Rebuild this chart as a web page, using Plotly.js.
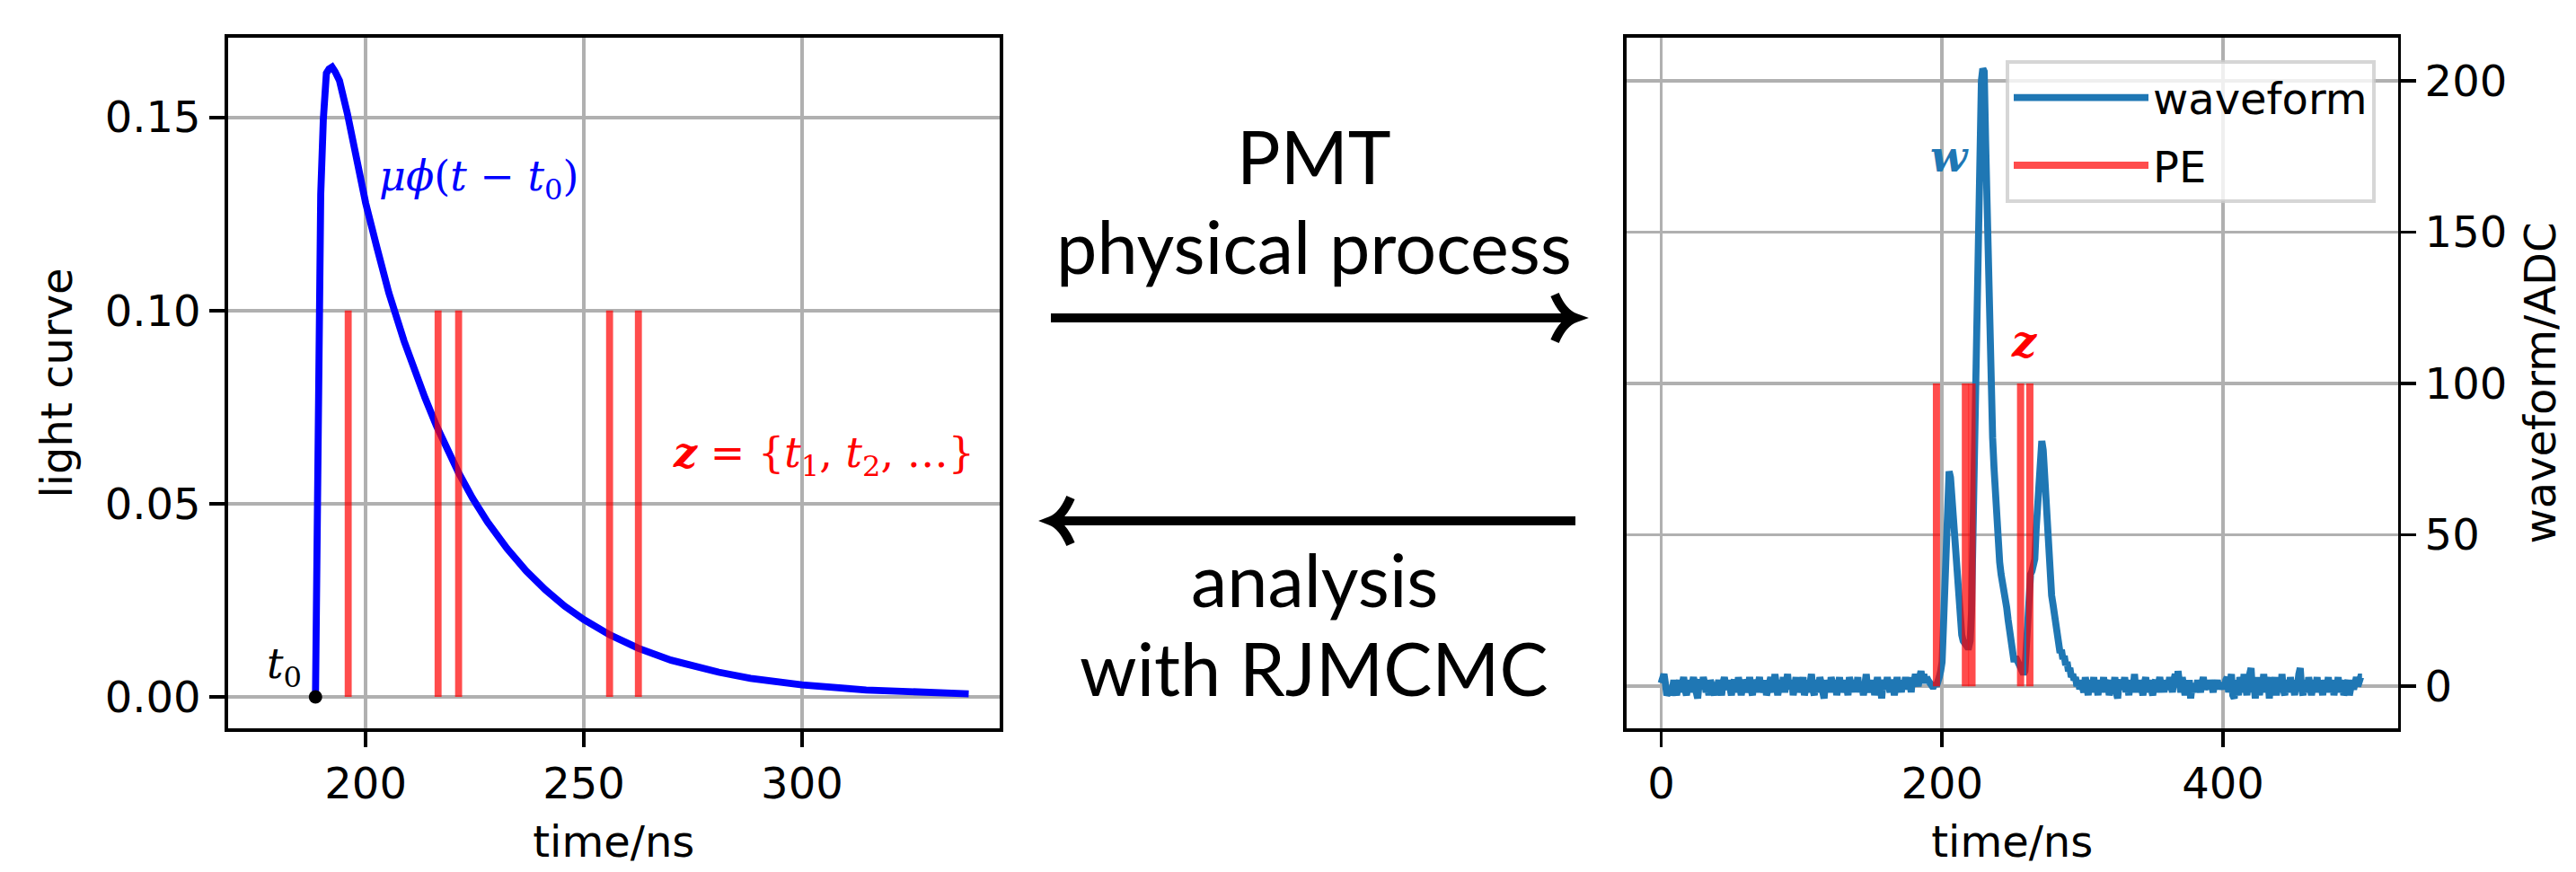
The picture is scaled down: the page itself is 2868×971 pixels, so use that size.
<!DOCTYPE html>
<html>
<head>
<meta charset="utf-8">
<script src="https://cdn.plot.ly/plotly-3.0.1.min.js"></script>
<style>html,body{margin:0;padding:0;background:#ffffff;}</style>
</head>
<body>
<div id="chart" style="width:2868px;height:971px;"></div>
<script>
// ---------------- data ----------------
// left panel: light curve mu*phi(t - t0)
const lightTime  = [188.5, 188.9, 189.2, 189.7, 190.3, 191.0, 191.6, 192.3, 193.0, 194.0, 195.8, 198.5, 200.0, 202.6, 205.3, 208.8, 211.0, 213.6, 216.2, 218.7, 221.3, 224.5, 227.9, 232.4, 236.8, 241.2, 245.6, 250.0, 255.9, 262.5, 270.0, 280.9, 288.2, 300.0, 314.7, 338.2];
const lightValue = [0.0, 0.055, 0.100, 0.130, 0.1495, 0.1614, 0.1625, 0.1630, 0.1618, 0.1595, 0.1510, 0.1356, 0.1278, 0.1162, 0.1046, 0.0921, 0.0848, 0.0774, 0.0702, 0.0641, 0.0580, 0.0514, 0.0453, 0.0384, 0.0326, 0.0277, 0.0235, 0.0200, 0.0161, 0.0126, 0.0095, 0.0064, 0.0048, 0.0031, 0.0018, 0.0008];
const t0 = 188.5;
const t0Value = 0;

// photoelectron times (both panels)
const peTimes = [196.0, 216.6, 221.3, 255.9, 262.5];
const peHeightLight = 0.10;
const peHeightWave = 100;

// right panel: waveform sampled every 1 ns (t = 0 ... 499)
const waveStep = 1;
const waveADC = [
  // t 0-189
  1, 2, 4, 1, -3, -2, 0, -3, -1, 2,
  -1, -3, 0, 2, -2, 1, 3, -1, -3, 0,
  2, -2, 1, 3, 0, -2, -4, 1, 2, -1,
  3, 1, -2, 0, -3, 2, 1, -1, -3, 1,
  0, 2, -2, -3, 1, 3, 0, -1, 2, -2,
  -3, 1, 2, 0, -2, 3, -1, -3, 0, 2,
  1, -2, 0, 3, -1, -3, 2, 1, -2, 0,
  3, -1, 0, -2, 2, -3, -1, 1, 3, 0,
  -2, 4, 1, -3, 0, 2, -1, 3, -2, 1,
  4, -1, 0, 2, -3, 1, 3, -2, 0, 2,
  -1, 3, -3, 0, 2, -2, 1, 4, -1, -3,
  2, 0, -2, 3, 1, -1, -4, 2, 0, 1,
  -2, 3, 1, -1, 2, -3, 0, 3, -2, 1,
  2, -1, 0, -3, 3, 1, -2, 2, 0, -1,
  3, -2, 1, 0, -3, 2, 4, -1, 1, -2,
  0, 2, -3, 1, 3, -1, 0, -4, 2, 1,
  -1, 3, 0, -2, 2, 1, -3, 0, 3, -1,
  1, -2, 2, 0, 3, -1, 1, 2, -2, 3,
  1, 4, 2, 0, 3, 5, 2, 4, 1, 3,
  // t 190-299 (pulse)
  2, 1, 1, 0, 0, 1, 0, 1, 3, 5,
  8, 20, 35, 55, 68, 71, 69, 62, 54, 45,
  37, 30, 24, 20, 17, 15, 14, 13, 13, 13,
  15, 25, 50, 85, 115, 140, 157, 180, 200, 204,
  203, 180, 155, 128, 108, 92, 82, 72, 62, 52,
  46, 41, 37, 33, 30, 28, 26, 22, 18, 14,
  10, 9, 9, 9, 8, 7, 6, 5, 4, 5,
  14, 25, 32, 37, 38, 40, 42, 52, 62, 72,
  80, 81, 78, 70, 60, 50, 40, 34, 30, 27,
  24, 19, 16, 15, 11, 12, 9, 10, 7, 8,
  5, 6, 3, 4, 2, 3, 0, 2, -1, 1,
  // t 300-499
  0, -2, 3, 1, -3, 2, 0, -1, 3, -2,
  1, -3, 2, 0, -1, 3, -2, 1, 2, -3,
  0, 2, -1, 3, -2, -4, 1, 2, -1, 0,
  3, -2, 1, -3, 2, 0, -1, 4, -2, 1,
  -1, 2, 0, -3, 1, 3, -2, 0, 2, -1,
  -3, 1, 2, -2, 0, 3, -1, 1, -2, 2,
  0, -1, 3, 1, -2, 2, 4, 0, 5, 1,
  -2, 3, 0, -3, 1, -1, 2, -4, 0, -2,
  1, -1, 2, 0, -2, 1, 3, -1, 0, 1,
  -1, 2, 0, -2, 1, 0, 2, -1, 1, 0,
  1, -1, 2, 3, -2, 1, 4, -3, -4, 2,
  0, -3, 3, 1, -2, 4, 0, -3, 2, 5,
  6, -2, 1, -4, 3, 0, -3, 2, -1, 4,
  -2, 1, 3, -4, 2, -1, 0, 3, -3, 1,
  2, -2, 4, -1, -3, 2, 0, -2, 3, -1,
  1, -3, 2, 0, 4, 6, -1, -3, 2, 0,
  -2, 3, 1, -3, 0, 2, -1, 3, -2, 1,
  0, -3, 2, 1, -1, 3, -2, 0, 2, -3,
  1, -1, 3, -2, 0, 2, -3, -1, 1, 2,
  -3, 0, 2, -1, 1, 3, 0, 2, 3, 3
];

// tick labels
const lightXTicks = [200, 250, 300];
const lightYTicks = [0.00, 0.05, 0.10, 0.15];
const waveXTicks = [0, 200, 400];
const waveYTicks = [0, 50, 100, 150, 200];

// text
const seriesNames = ['waveform', 'PE'];
const leftXLabel = 'time/ns', leftYLabel = 'light curve';
const rightXLabel = 'time/ns', rightYLabel = 'waveform/ADC';
const forwardText = ['PMT', 'physical process'];
const backwardText = ['analysis', 'with RJMCMC'];

// ---------------- build ----------------
const W = 2868, H = 971;
const px = v => v / W;
const py = v => 1 - v / H;

const waveTime = waveADC.map((_, i) => i * waveStep);
const segX = peTimes.flatMap(t => [t, t, null]);
const segY = h => peTimes.flatMap(() => [0, h, null]);

const PE_COLOR = 'rgba(255,0,0,0.7)';
const WAVE_COLOR = '#1f77b4';
const LW = 7.8;

const traces = [
  {x: lightTime, y: lightValue, xaxis: 'x', yaxis: 'y', mode: 'lines',
   line: {color: '#0000ff', width: LW}, showlegend: false, hoverinfo: 'skip'},
  {x: segX, y: segY(peHeightLight), xaxis: 'x', yaxis: 'y', mode: 'lines',
   line: {color: PE_COLOR, width: LW}, showlegend: false, hoverinfo: 'skip'},
  {x: [t0], y: [t0Value], xaxis: 'x', yaxis: 'y', mode: 'markers', cliponaxis: false,
   marker: {color: '#000000', size: 15}, showlegend: false, hoverinfo: 'skip'},
  {x: waveTime, y: waveADC, xaxis: 'x2', yaxis: 'y2', mode: 'lines', name: seriesNames[0],
   legendgroup: 'a', line: {color: WAVE_COLOR, width: LW}},
  {x: segX, y: segY(peHeightWave), xaxis: 'x2', yaxis: 'y2', mode: 'lines', name: seriesNames[1],
   legendgroup: 'b', line: {color: PE_COLOR, width: 8}}
];

const FONT = 'DejaVu Sans';
const FS = 48;
const axisCommon = {
  showline: true, linecolor: '#000000', linewidth: 3.8, mirror: true,
  ticks: 'outside', ticklen: 16.7, tickwidth: 3.8, tickcolor: '#000000',
  showgrid: true, gridcolor: '#b0b0b0', gridwidth: 3.8, zeroline: false,
  tickfont: {family: FONT, size: FS, color: '#000000'},
  fixedrange: true
};

const topPx = 42, botPx = 811;
const yDom = [py(botPx), py(topPx)];

const layout = {
  width: W, height: H, autosize: false,
  margin: {l: 0, r: 0, t: 0, b: 0, pad: 0},
  paper_bgcolor: '#ffffff', plot_bgcolor: '#ffffff',
  font: {family: FONT, size: FS, color: '#000000'},
  xaxis: Object.assign({}, axisCommon, {
    domain: [px(253.6), px(1113)], range: [168.4, 345.3], anchor: 'y',
    tickvals: lightXTicks, ticktext: lightXTicks.map(String),
    title: {text: leftXLabel, font: {family: FONT, size: FS}, standoff: 22}
  }),
  yaxis: Object.assign({}, axisCommon, {
    domain: yDom, range: [-0.00813, 0.1706], anchor: 'x',
    tickvals: lightYTicks, ticktext: lightYTicks.map(v => v.toFixed(2)),
    title: {text: leftYLabel, font: {family: FONT, size: FS}, standoff: 22}
  }),
  xaxis2: Object.assign({}, axisCommon, {
    domain: [px(1811), px(2669.5)], range: [-24.6, 524.4], anchor: 'y2',
    tickvals: waveXTicks, ticktext: waveXTicks.map(String),
    title: {text: rightXLabel, font: {family: FONT, size: FS}, standoff: 22}
  }),
  yaxis2: Object.assign({}, axisCommon, {
    domain: yDom, range: [-13.9, 214.2], anchor: 'x2', side: 'right',
    tickvals: waveYTicks, ticktext: waveYTicks.map(String),
    title: {text: rightYLabel, font: {family: FONT, size: FS}, standoff: 22}
  }),
  showlegend: true,
  legend: {
    x: px(2645), y: py(67), xanchor: 'right', yanchor: 'top',
    xref: 'paper', yref: 'paper',
    bgcolor: 'rgba(255,255,255,0.8)', bordercolor: 'rgba(204,204,204,0.8)', borderwidth: 4,
    font: {family: FONT, size: FS, color: '#000000'},
    itemwidth: 150, tracegroupgap: 10
  },
  annotations: [
    {xref: 'x', yref: 'y', x: 202.6, y: 0.134, xanchor: 'left', yanchor: 'middle', showarrow: false,
     text: '<i>μϕ</i>(<i>t</i> − <i>t</i><sub>0</sub>)', font: {family: 'DejaVu Serif', size: 46, color: '#0000ff'}},
    {xref: 'x', yref: 'y', x: 269.9, y: 0.0625, xanchor: 'left', yanchor: 'middle', showarrow: false,
     text: '<b><i>z</i></b> = {<i>t</i><sub>1</sub>, <i>t</i><sub>2</sub>, …}', font: {family: 'DejaVu Serif', size: 46, color: '#ff0000'}},
    {xref: 'x', yref: 'y', x: 185.8, y: 0.0079, xanchor: 'right', yanchor: 'middle', showarrow: false,
     text: '<i>t</i><sub>0</sub>', font: {family: 'DejaVu Serif', size: 46, color: '#000000'}},
    {xref: 'x2', yref: 'y2', x: 205.6, y: 175, xanchor: 'center', yanchor: 'middle', showarrow: false,
     text: '<b><i>w</i></b>', font: {family: 'DejaVu Serif', size: 48, color: WAVE_COLOR}},
    {xref: 'x2', yref: 'y2', x: 259, y: 114, xanchor: 'center', yanchor: 'middle', showarrow: false,
     text: '<b><i>z</i></b>', font: {family: 'DejaVu Serif', size: 48, color: '#ff0000'}},
    {xref: 'paper', yref: 'paper', x: px(1463), y: py(174), xanchor: 'center', yanchor: 'middle', showarrow: false,
     text: forwardText[0], font: {family: 'Lato', size: 81, color: '#000000'}},
    {xref: 'paper', yref: 'paper', x: px(1463), y: py(273), xanchor: 'center', yanchor: 'middle', showarrow: false,
     text: forwardText[1], font: {family: 'Lato', size: 81, color: '#000000'}},
    {xref: 'paper', yref: 'paper', x: px(1463), y: py(644), xanchor: 'center', yanchor: 'middle', showarrow: false,
     text: backwardText[0], font: {family: 'Lato', size: 81, color: '#000000'}},
    {xref: 'paper', yref: 'paper', x: px(1463), y: py(743), xanchor: 'center', yanchor: 'middle', showarrow: false,
     text: backwardText[1], font: {family: 'Lato', size: 81, color: '#000000'}}
  ],
  shapes: [
    {type: 'line', xref: 'paper', yref: 'paper', x0: px(1170), x1: px(1748), y0: py(354), y1: py(354),
     line: {color: '#000000', width: 10}},
    {type: 'path', xref: 'paper', yref: 'paper',
     path: `M ${px(1731)},${py(328)} Q ${px(1740)},${py(349)} ${px(1754)},${py(354)} Q ${px(1740)},${py(359)} ${px(1731)},${py(380)}`,
     line: {color: '#000000', width: 10}},
    {type: 'line', xref: 'paper', yref: 'paper', x0: px(1176), x1: px(1754), y0: py(580), y1: py(580),
     line: {color: '#000000', width: 10}},
    {type: 'path', xref: 'paper', yref: 'paper',
     path: `M ${px(1192)},${py(554)} Q ${px(1183)},${py(575)} ${px(1170)},${py(580)} Q ${px(1183)},${py(585)} ${px(1192)},${py(606)}`,
     line: {color: '#000000', width: 10}}
  ]
};

Plotly.newPlot('chart', traces, layout, {displayModeBar: false, staticPlot: true});
</script>
</body>
</html>
